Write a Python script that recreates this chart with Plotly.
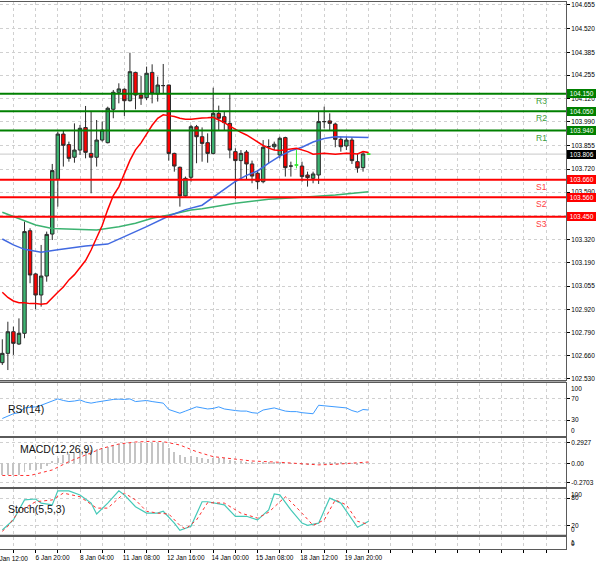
import plotly.graph_objects as go

# ---------------- data (H4 candles, index 0..66) ----------------
candle_idx = list(range(67))
open_p = [102.619, 102.672, 102.795, 102.725, 102.786, 103.370, 103.124, 103.004, 103.112, 103.351,
          103.663, 103.920, 103.860, 103.788, 103.829, 103.957, 103.810, 103.788, 103.886, 103.871,
          104.061, 104.158, 104.175, 104.110, 104.271, 104.142, 104.127, 104.271, 104.148, 104.196,
          104.199, 103.810, 103.731, 103.568, 103.674, 103.962, 103.905, 103.871, 103.810, 104.038,
          104.019, 103.981, 103.820, 103.769, 103.818, 103.750, 103.697, 103.649, 103.848, 103.848,
          103.801, 103.900, 103.738, 103.744, 103.738, 103.687, 103.668, 103.687, 103.991, 103.995,
          103.977, 103.890, 103.852, 103.886, 103.763, 103.729, 103.806]
high_p = [102.752, 102.852, 102.824, 102.871, 103.422, 103.384, 103.128, 103.289, 103.365, 103.750,
          103.934, 103.943, 103.877, 103.981, 103.972, 104.080, 104.048, 104.000, 103.991, 104.076,
          104.171, 104.209, 104.180, 104.383, 104.275, 104.251, 104.304, 104.317, 104.247, 104.319,
          104.201, 103.814, 103.735, 103.678, 103.972, 103.972, 103.958, 103.924, 104.184, 104.082,
          104.048, 104.152, 103.839, 103.829, 103.829, 103.769, 103.716, 103.886, 103.890, 103.877,
          103.905, 103.905, 103.763, 103.829, 103.763, 103.706, 103.706, 104.048, 104.076, 104.038,
          103.985, 103.905, 103.905, 103.902, 103.810, 103.820, 103.810]
low_p = [102.606, 102.577, 102.663, 102.720, 102.758, 103.071, 102.923, 102.938, 103.080, 103.317,
         103.507, 103.735, 103.763, 103.757, 103.801, 103.782, 103.583, 103.735, 103.877, 103.867,
         104.010, 104.095, 104.023, 104.105, 104.061, 104.086, 104.114, 104.095, 104.105, 104.152,
         103.769, 103.706, 103.507, 103.564, 103.649, 103.754, 103.763, 103.757, 103.805, 103.943,
         103.943, 103.782, 103.549, 103.659, 103.659, 103.640, 103.606, 103.640, 103.754, 103.829,
         103.782, 103.678, 103.678, 103.725, 103.649, 103.621, 103.640, 103.636, 103.953, 103.943,
         103.845, 103.820, 103.829, 103.750, 103.700, 103.706, 103.802]
close_p = [102.672, 102.795, 102.729, 102.786, 103.365, 103.118, 103.004, 103.112, 103.349, 103.712,
           103.920, 103.856, 103.782, 103.829, 103.953, 103.816, 103.788, 103.886, 103.943, 104.067,
           104.158, 104.177, 104.110, 104.275, 104.142, 104.124, 104.266, 104.152, 104.199, 104.196,
           103.810, 103.738, 103.568, 103.668, 103.962, 103.905, 103.867, 103.810, 104.038, 104.010,
           103.985, 103.829, 103.769, 103.810, 103.750, 103.681, 103.649, 103.845, 103.848, 103.862,
           103.896, 103.729, 103.738, 103.744, 103.678, 103.672, 103.693, 103.991, 103.991, 103.981,
           103.890, 103.848, 103.886, 103.769, 103.727, 103.807, 103.806]
lime_doji_idx = [53, 66]

ma_red = [103.02, 102.99, 102.97, 102.96, 102.96, 102.955, 102.955, 102.952, 102.955, 102.99,
          103.02, 103.05, 103.09, 103.12, 103.16, 103.20, 103.26, 103.33, 103.40, 103.49,
          103.57, 103.62, 103.70, 103.77, 103.83, 103.87, 103.92, 103.97, 104.01, 104.03,
          104.025, 104.02, 104.01, 104.005, 104.005, 104.01, 104.012, 104.013, 104.015, 104.00,
          103.985, 103.965, 103.945, 103.93, 103.915, 103.895, 103.875, 103.855, 103.84, 103.83,
          103.827, 103.829, 103.835, 103.839, 103.83, 103.82, 103.805, 103.81, 103.811, 103.808,
          103.805, 103.808, 103.811, 103.809, 103.807, 103.82, 103.815]
ma_blue_idx = [0, 2, 4, 7, 10, 15, 19, 22, 26, 30, 33, 36, 38, 40, 42, 44, 46, 48, 50, 52,
               54, 56, 58, 60, 62, 64, 66]
ma_blue = [103.323, 103.289, 103.264, 103.247, 103.262, 103.283, 103.294, 103.336, 103.393, 103.454,
           103.49, 103.515, 103.56, 103.605, 103.65, 103.685, 103.71, 103.755, 103.795, 103.825,
           103.845, 103.875, 103.895, 103.905, 103.905, 103.902, 103.900]
ma_green_idx = [0, 3, 6, 9, 12, 17, 21, 24, 27, 30, 34, 36, 42, 48, 54, 60, 66]
ma_green = [103.475, 103.437, 103.403, 103.382, 103.378, 103.374, 103.393, 103.412, 103.441, 103.459,
            103.488, 103.495, 103.526, 103.549, 103.560, 103.573, 103.592]

pivot_names = ["R3", "R2", "R1", "S1", "S2", "S3"]
pivot_levels = [104.150, 104.050, 103.940, 103.660, 103.560, 103.450]
last_price = 103.806

price_ticks = [104.655, 104.520, 104.385, 104.255, 104.120, 103.990, 103.855, 103.720, 103.590,
               103.455, 103.320, 103.190, 103.055, 102.920, 102.790, 102.660, 102.530]
grid_idx = list(range(-2, 102, 4))
time_label_idx = [-2, 6, 14, 22, 30, 38, 46, 54, 62]
time_labels = ["5 Jan 12:00", "6 Jan 20:00", "8 Jan 04:00", "11 Jan 08:00", "12 Jan 16:00",
               "14 Jan 00:00", "15 Jan 08:00", "18 Jan 12:00", "19 Jan 20:00"]

rsi = [33, 38, 42, 44, 53, 54, 55, 58, 62, 66,
       70, 67, 65, 66, 68, 64, 62, 64, 66, 68,
       69, 69.5, 69, 70, 65, 66, 67, 65, 63, 62,
       50, 46, 43, 47, 51, 55, 53, 51, 52, 55,
       51, 49, 48, 47, 47, 44, 43, 49, 51, 53,
       50, 47, 46, 46, 44, 43, 42, 58, 57, 56,
       55, 53, 53, 48, 45, 50, 49]
rsi_range = [0, 100]
rsi_levels = [70, 30]

macd_hist = [-0.16, -0.16, -0.16, -0.16, -0.12, -0.10, -0.10, -0.08, -0.04, 0.03,
             0.08, 0.11, 0.13, 0.15, 0.17, 0.19, 0.19, 0.20, 0.21, 0.23,
             0.25, 0.27, 0.27, 0.29, 0.29, 0.28, 0.29, 0.29, 0.28, 0.28,
             0.21, 0.16, 0.11, 0.09, 0.10, 0.09, 0.08, 0.06, 0.08, 0.08,
             0.07, 0.05, 0.03, 0.03, 0.02, 0.01, -0.01, 0.01, 0.01, 0.01,
             0.02, 0.00, -0.01, -0.01, -0.02, -0.03, -0.03, 0.01, 0.02, 0.02,
             0.02, 0.01, 0.01, -0.01, -0.02, -0.01, -0.01]
macd_sig_idx = [0, 5, 9, 12, 15, 18, 21, 24, 27, 29, 32, 35, 38, 42, 45, 50, 54, 57, 60, 63, 66]
macd_sig = [-0.17, -0.17, -0.093, 0.023, 0.116, 0.209, 0.269, 0.297, 0.307, 0.302,
            0.255, 0.162, 0.093, 0.056, 0.032, 0.014, -0.005, -0.022, -0.014, 0.0, 0.018]
macd_ticks = [0.2927, 0.0, -0.2703]
macd_tick_text = ["0.2927", "0.00", "-0.2703"]

stoch_k_idx = [0, 2, 4, 6, 7, 9, 10, 12, 14, 16, 17, 19, 21, 22, 24, 26, 28, 29, 31, 32,
               34, 36, 37, 40, 42, 44, 46, 48, 49, 50, 52, 54, 55, 57, 59, 61, 64, 66]
stoch_k = [10, 32, 76, 78, 69, 65, 96, 96, 87, 69, 45, 69, 96, 87, 61, 47, 47, 51, 25, 9,
           18, 72, 72, 65, 40, 40, 32, 54, 89, 87, 54, 25, 20, 25, 80, 69, 16, 29]
stoch_d_idx = [0, 1, 3, 6, 9, 11, 14, 17, 19, 22, 24, 26, 28, 30, 32, 33, 35, 37, 40, 43,
               46, 48, 51, 52, 54, 56, 58, 60, 62, 64, 66]
stoch_d = [7, 18, 51, 72, 76, 91, 83, 58, 58, 91, 76, 51, 47, 45, 20, 12, 32, 70, 69, 47,
           36, 49, 83, 72, 47, 20, 32, 76, 65, 29, 22]
stoch_range = [0, 100]
stoch_levels = [80, 20]
empty_range = [0, 1]

# ---------------- styling ----------------
H = 568.0
FONT = "Liberation Sans"
SMALL = 6.5
GREEN_BODY = "#3cb371"
RED_BODY = "#ff0000"
OUTLINE = "#2b2b2b"
LIME = "#2ee82e"
R_COLOR = "#008000"
S_COLOR = "#ff0000"
GRID = "#d0d0d0"
FRAME = "#5a5a5a"
SEP = "#a8a8a8"

X_RANGE = [-0.414, 101.571]
Y_RANGE = [102.5203, 104.6717]

PANELS = {  # pixel top, bottom
    "y": (2, 380), "y2": (383, 436), "y3": (438, 487), "y4": (489, 534.5), "y5": (536.5, 548.5)}


def dom(top_px, bottom_px):
    return [1 - bottom_px / H, 1 - top_px / H]


fig = go.Figure()

main_sel = [i for i in candle_idx if i not in lime_doji_idx]
fig.add_trace(go.Candlestick(
    x=[candle_idx[i] for i in main_sel],
    open=[open_p[i] for i in main_sel], high=[high_p[i] for i in main_sel],
    low=[low_p[i] for i in main_sel], close=[close_p[i] for i in main_sel],
    increasing=dict(line=dict(color=OUTLINE, width=1), fillcolor=GREEN_BODY),
    decreasing=dict(line=dict(color=OUTLINE, width=1), fillcolor=RED_BODY),
    whiskerwidth=0, hoverinfo="skip", showlegend=False, xaxis="x", yaxis="y"))
fig.add_trace(go.Candlestick(
    x=[candle_idx[i] for i in lime_doji_idx],
    open=[open_p[i] for i in lime_doji_idx], high=[high_p[i] for i in lime_doji_idx],
    low=[low_p[i] for i in lime_doji_idx], close=[close_p[i] for i in lime_doji_idx],
    increasing=dict(line=dict(color=LIME, width=1), fillcolor=LIME),
    decreasing=dict(line=dict(color=LIME, width=1), fillcolor=LIME),
    whiskerwidth=0, hoverinfo="skip", showlegend=False, xaxis="x", yaxis="y"))

fig.add_trace(go.Scatter(x=ma_green_idx, y=ma_green, mode="lines",
                         line=dict(color="#3cb371", width=1.5), xaxis="x", yaxis="y", hoverinfo="skip"))
fig.add_trace(go.Scatter(x=ma_blue_idx, y=ma_blue, mode="lines",
                         line=dict(color="#4169e1", width=1.5), xaxis="x", yaxis="y", hoverinfo="skip"))
fig.add_trace(go.Scatter(x=candle_idx, y=ma_red, mode="lines",
                         line=dict(color="#ff0000", width=1.5), xaxis="x", yaxis="y", hoverinfo="skip"))

# RSI
fig.add_trace(go.Scatter(x=candle_idx, y=rsi, mode="lines",
                         line=dict(color="#3d9bff", width=1), xaxis="x2", yaxis="y2", hoverinfo="skip"))
# MACD
fig.add_trace(go.Bar(x=candle_idx, y=macd_hist, width=0.18, marker=dict(color="#c4c4c4", line=dict(width=0)),
                     xaxis="x3", yaxis="y3", hoverinfo="skip"))
fig.add_trace(go.Scatter(x=macd_sig_idx, y=macd_sig, mode="lines",
                         line=dict(color="#ff3030", width=1, dash="dot"), xaxis="x3", yaxis="y3", hoverinfo="skip"))
# Stochastic
fig.add_trace(go.Scatter(x=stoch_k_idx, y=stoch_k, mode="lines",
                         line=dict(color="#45c9b8", width=1.2), xaxis="x4", yaxis="y4", hoverinfo="skip"))
fig.add_trace(go.Scatter(x=stoch_d_idx, y=stoch_d, mode="lines",
                         line=dict(color="#ff3030", width=1, dash="dot"), xaxis="x4", yaxis="y4", hoverinfo="skip"))
# empty bottom panel
fig.add_trace(go.Scatter(x=[None], y=[None], xaxis="x5", yaxis="y5", hoverinfo="skip"))

# panel separators (gray bars between the indicator windows)
order = ["y", "y2", "y3", "y4", "y5"]
for a, b in zip(order[:-1], order[1:]):
    fig.add_shape(type="rect", xref="paper", x0=0, x1=1, yref="paper",
                  y0=1 - PANELS[b][0] / H, y1=1 - PANELS[a][1] / H,
                  line=dict(width=0), fillcolor=SEP, layer="below")

# pivot lines and current price line
fig.add_shape(type="line", xref="x domain", x0=0, x1=1, yref="y", y0=last_price, y1=last_price,
              line=dict(color="#c8c8c8", width=1), layer="below")
for name, lvl in zip(pivot_names, pivot_levels):
    col = R_COLOR if name.startswith("R") else S_COLOR
    fig.add_shape(type="line", xref="x domain", x0=0, x1=1, yref="y", y0=lvl, y1=lvl,
                  line=dict(color=col, width=2))

annotations = []
for name, lvl in zip(pivot_names, pivot_levels):
    is_r = name.startswith("R")
    bg = R_COLOR if is_r else S_COLOR
    annotations.append(dict(xref="x domain", x=0.957, yref="y", y=lvl, yshift=-7,
                            text=name, showarrow=False, xanchor="center", yanchor="middle",
                            font=dict(family=FONT, size=8.5, color="#3a9e3a" if is_r else "#ff4040")))
    annotations.append(dict(xref="paper", x=1, xshift=1, yref="y", y=lvl, text="&nbsp;%.3f&nbsp;" % lvl,
                            showarrow=False, xanchor="left", yanchor="middle", borderpad=0, borderwidth=1,
                            bordercolor=bg, bgcolor=bg,
                            font=dict(family=FONT, size=SMALL, color="white")))
annotations.append(dict(xref="paper", x=1, xshift=1, yref="y", y=last_price, text="&nbsp;%.3f&nbsp;" % last_price,
                        showarrow=False, xanchor="left", yanchor="middle", borderpad=0, borderwidth=1,
                        bordercolor="#000000", bgcolor="#000000",
                        font=dict(family=FONT, size=SMALL, color="white")))

# edge labels of the indicator scales, drawn inside the window like the terminal does
edge_labels = [("y2", rsi_range), ("y4", stoch_range), ("y5", empty_range)]
for ax, rng in edge_labels:
    for val, frac, anchor in ((rng[1], 1, "top"), (rng[0], 0, "bottom")):
        annotations.append(dict(xref="paper", x=1, xshift=3, yref=ax + " domain", y=frac,
                                text=str(val), showarrow=False, xanchor="left", yanchor=anchor,
                                font=dict(family=FONT, size=SMALL, color="#000")))

# indicator titles
annotations.append(dict(xref="x2 domain", x=0.0106, yref="y2 domain", y=0.51, text="RSI(14)",
                        showarrow=False, xanchor="left", yanchor="middle",
                        font=dict(family=FONT, size=10.5, color="#111")))
annotations.append(dict(xref="x3 domain", x=0.0318, yref="y3 domain", y=0.776, text="MACD(12,26,9)",
                        showarrow=False, xanchor="left", yanchor="middle",
                        font=dict(family=FONT, size=10.5, color="#111")))
annotations.append(dict(xref="x4 domain", x=0.0106, yref="y4 domain", y=0.56, text="Stoch(5,5,3)",
                        showarrow=False, xanchor="left", yanchor="middle",
                        font=dict(family=FONT, size=10.5, color="#111")))

# time label that starts left of the visible range (partially cut)
first_frac = (time_label_idx[0] - X_RANGE[0]) / (X_RANGE[1] - X_RANGE[0])
annotations.append(dict(xref="paper", x=first_frac, xshift=1, yref="y5 domain", y=0, yshift=-4,
                        text=time_labels[0], showarrow=False, xanchor="left", yanchor="top",
                        font=dict(family=FONT, size=SMALL, color="#000")))

tick_text_bottom = []
for g in grid_idx:
    tick_text_bottom.append(time_labels[time_label_idx.index(g)] if g in time_label_idx else "")

grid_kw = dict(showgrid=True, gridcolor=GRID, griddash="3px,3px", gridwidth=1, zeroline=False)
x_kw = dict(range=X_RANGE, domain=[0, 1], tickmode="array", tickvals=grid_idx, showline=True,
            mirror=True, linecolor=FRAME, linewidth=1, fixedrange=True, automargin=False, **grid_kw)
y_kw = dict(side="right", showline=True, mirror=False, linecolor=FRAME, linewidth=1,
            ticks="outside", ticklen=3, tickcolor="#000", tickmode="array", automargin=False,
            tickfont=dict(family=FONT, size=SMALL, color="#000"), fixedrange=True, **grid_kw)

layout = dict(
    width=600, height=568, margin=dict(l=0, r=34, t=0, b=0),
    paper_bgcolor="white", plot_bgcolor="white", template="none", showlegend=False,
    hovermode=False, boxgap=0.38, boxgroupgap=0, bargap=0,
    font=dict(family=FONT, size=SMALL, color="#000"),
    annotations=annotations,
    xaxis=dict(anchor="y", showticklabels=False, ticks="", rangeslider=dict(visible=False), **x_kw),
    xaxis2=dict(anchor="y2", showticklabels=False, ticks="", **x_kw),
    xaxis3=dict(anchor="y3", showticklabels=False, ticks="", **x_kw),
    xaxis4=dict(anchor="y4", showticklabels=False, ticks="", **x_kw),
    xaxis5=dict(anchor="y5", showticklabels=True, ticktext=tick_text_bottom, ticks="outside", ticklen=3,
                tickcolor="#000", tickangle=0, ticklabelshift=17,
                tickfont=dict(family=FONT, size=SMALL, color="#000"), **x_kw),
    yaxis=dict(anchor="x", domain=dom(*PANELS["y"]), range=Y_RANGE, tickvals=price_ticks,
               ticktext=["%.3f" % v for v in price_ticks], **y_kw),
    yaxis2=dict(anchor="x2", domain=dom(*PANELS["y2"]), range=rsi_range, tickvals=rsi_levels,
                ticktext=[str(v) for v in rsi_levels], **y_kw),
    yaxis3=dict(anchor="x3", domain=dom(*PANELS["y3"]), range=[-0.331, 0.353], tickvals=macd_ticks,
                ticktext=macd_tick_text, **y_kw),
    yaxis4=dict(anchor="x4", domain=dom(*PANELS["y4"]), range=stoch_range, tickvals=stoch_levels,
                ticktext=[str(v) for v in stoch_levels], **y_kw),
    yaxis5=dict(anchor="x5", domain=dom(*PANELS["y5"]), range=empty_range, tickvals=[],
                **{k: v for k, v in y_kw.items() if k != "tickmode"}),
)
fig.update_layout(**layout)

fig.write_html("out.html")
